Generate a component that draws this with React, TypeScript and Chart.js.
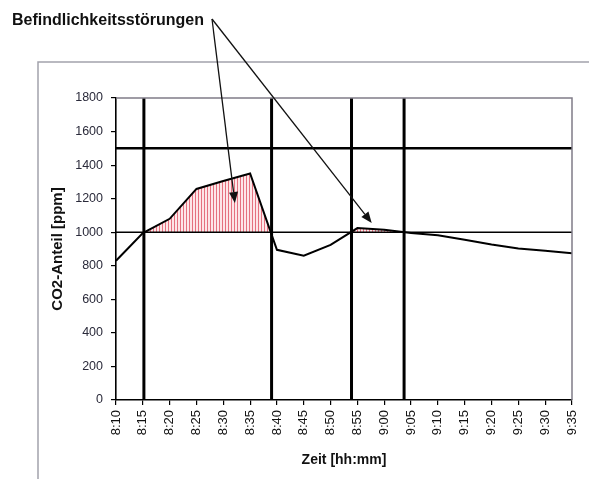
import { useEffect, useRef } from 'react';
import { Chart, registerables } from 'chart.js';

Chart.register(...registerables);

// ---- data ----
const timeLabels = ['8:10', '8:15', '8:20', '8:25', '8:30', '8:35', '8:40', '8:45', '8:50', '8:55', '9:00', '9:05', '9:10', '9:15', '9:20', '9:25', '9:30', '9:35'];
const co2Values = [830, 995, 1080, 1258, 1305, 1350, 895, 860, 925, 1025, 1015, 995, 982, 955, 927, 903, 890, 875];
const yTickValues = [0, 200, 400, 600, 800, 1000, 1200, 1400, 1600, 1800];
const thresholdValues = [1000, 1500];
const markerTimes = ['8:15:12', '8:39:00', '8:53:54', '9:03:42'];
const annotationText = 'Befindlichkeitsstörungen';
const arrowTimes = ['8:32:10', '8:57:40'];
const arrowValues = [1174, 1055];
const xTitle = 'Zeit [hh:mm]';
const yTitle = 'CO2-Anteil [ppm]';

const FONT = '"Liberation Sans", Arial, sans-serif';

function toMin(t: string): number {
  const p = t.split(':').map(Number);
  return p[0] * 60 + p[1] + (p[2] || 0) / 60;
}
function fmt(v: number): string {
  const h = Math.floor(v / 60);
  const m = Math.round(v - h * 60);
  return h + ':' + (m < 10 ? '0' + m : '' + m);
}

const xMin = toMin(timeLabels[0]);
const xMax = toMin(timeLabels[timeLabels.length - 1]);

function makePattern(): CanvasPattern | string {
  const c = document.createElement('canvas');
  c.width = 3;
  c.height = 4;
  const g = c.getContext('2d');
  if (!g) return 'rgba(230,100,120,0.4)';
  g.fillStyle = '#fde6e8';
  g.fillRect(0, 0, 3, 4);
  g.fillStyle = '#e5717f';
  g.fillRect(0, 0, 1, 4);
  return g.createPattern(c, 'repeat') || 'rgba(230,100,120,0.4)';
}

const decorPlugin = {
  id: 'decor',
  beforeDraw(chart: any) {
    const ctx = chart.ctx;
    ctx.save();
    ctx.strokeStyle = '#a2a2ac';
    ctx.lineWidth = 1.5;
    ctx.beginPath();
    ctx.moveTo(38, chart.height);
    ctx.lineTo(38, 62);
    ctx.lineTo(chart.width, 62);
    ctx.stroke();
    ctx.restore();
  },
  afterDraw(chart: any) {
    const ctx = chart.ctx;
    const a = chart.chartArea;
    const xs = chart.scales.x;
    const ys = chart.scales.y;
    ctx.save();
    // plot area top/right border
    ctx.strokeStyle = '#807c88';
    ctx.lineWidth = 1.5;
    ctx.beginPath();
    ctx.moveTo(a.left, a.top);
    ctx.lineTo(a.right, a.top);
    ctx.lineTo(a.right, a.bottom);
    ctx.stroke();
    // annotation text
    ctx.fillStyle = '#111';
    ctx.font = 'bold 16px ' + FONT;
    ctx.textBaseline = 'alphabetic';
    ctx.textAlign = 'left';
    ctx.fillText(annotationText, 12, 25);
    // arrows
    const sx = 212;
    const sy = 19;
    ctx.strokeStyle = '#111';
    ctx.fillStyle = '#111';
    ctx.lineWidth = 1.3;
    for (let i = 0; i < arrowTimes.length; i++) {
      const tx = xs.getPixelForValue(toMin(arrowTimes[i]));
      const ty = ys.getPixelForValue(arrowValues[i]);
      const ang = Math.atan2(ty - sy, tx - sx);
      const hl = 11;
      const hw = 4.5;
      const bx = tx - hl * Math.cos(ang);
      const by = ty - hl * Math.sin(ang);
      ctx.beginPath();
      ctx.moveTo(sx, sy);
      ctx.lineTo(bx, by);
      ctx.stroke();
      ctx.beginPath();
      ctx.moveTo(tx, ty);
      ctx.lineTo(bx + hw * Math.sin(ang), by - hw * Math.cos(ang));
      ctx.lineTo(bx - hw * Math.sin(ang), by + hw * Math.cos(ang));
      ctx.closePath();
      ctx.fill();
    }
    ctx.restore();
  },
};

export default function App() {
  const ref = useRef<HTMLCanvasElement | null>(null);

  useEffect(() => {
    document.body.style.margin = '0';
    const canvas = ref.current;
    if (!canvas) return;
    const pattern = makePattern();

    const datasets: any[] = [
      {
        label: 'CO2',
        data: timeLabels.map((t, i) => ({ x: toMin(t), y: co2Values[i] })),
        borderColor: '#000',
        borderWidth: 2,
        pointRadius: 0,
        tension: 0,
        fill: { target: { value: 1000 }, above: pattern, below: 'rgba(0,0,0,0)' },
        order: 2,
      },
    ];
    thresholdValues.forEach((v) => {
      datasets.push({
        label: 'h' + v,
        data: [
          { x: xMin, y: v },
          { x: xMax, y: v },
        ],
        borderColor: '#000',
        borderWidth: v === 1500 ? 2.5 : 1.6,
        pointRadius: 0,
        fill: false,
        order: 1,
      });
    });
    markerTimes.forEach((t) => {
      datasets.push({
        label: 'v' + t,
        data: [
          { x: toMin(t), y: yTickValues[0] },
          { x: toMin(t), y: yTickValues[yTickValues.length - 1] },
        ],
        borderColor: '#000',
        borderWidth: 3,
        pointRadius: 0,
        fill: false,
        order: 1,
      });
    });

    const chart = new Chart(canvas, {
      type: 'line',
      data: { datasets },
      plugins: [decorPlugin],
      options: {
        animation: false,
        responsive: false,
        layout: { padding: { top: 98, right: 17, left: 0, bottom: 0 } },
        plugins: { legend: { display: false }, tooltip: { enabled: false } },
        scales: {
          x: {
            type: 'linear',
            min: xMin,
            max: xMax,
            afterBuildTicks: (s: any) => {
              s.ticks = timeLabels.map((t) => ({ value: toMin(t) }));
            },
            afterFit: (s: any) => {
              s.height = 79;
              s.paddingLeft = 0;
              s.paddingRight = 0;
            },
            ticks: {
              autoSkip: false,
              maxRotation: 90,
              minRotation: 90,
              padding: 5,
              color: '#111',
              font: { family: FONT, size: 13 },
              callback: (v: any) => fmt(Number(v)),
            },
            grid: { drawOnChartArea: false, drawTicks: true, tickLength: 5, tickColor: '#000', lineWidth: 1.2 },
            border: { display: true, color: '#000', width: 1.6 },
            title: {
              display: true,
              text: xTitle,
              color: '#111',
              font: { family: FONT, size: 14, weight: 'bold' },
              padding: { top: 0, bottom: 10 },
            },
          },
          y: {
            type: 'linear',
            min: yTickValues[0],
            max: yTickValues[yTickValues.length - 1],
            afterBuildTicks: (s: any) => {
              s.ticks = yTickValues.map((v) => ({ value: v }));
            },
            afterFit: (s: any) => {
              s.width = 116;
              s.paddingTop = 0;
              s.paddingBottom = 0;
            },
            ticks: {
              padding: 8,
              color: '#2a2a3a',
              font: { family: FONT, size: 12.5 },
              callback: (v: any) => String(v),
            },
            grid: { drawOnChartArea: false, drawTicks: true, tickLength: 5, tickColor: '#000', lineWidth: 1.2 },
            border: { display: true, color: '#000', width: 1.6 },
            title: {
              display: true,
              text: yTitle,
              color: '#111',
              font: { family: FONT, size: 15, weight: 'bold' },
              padding: { top: 49, bottom: 0 },
            },
          },
        },
      } as any,
    });
    return () => chart.destroy();
  }, []);

  return (
    <div style={{ position: 'relative', width: 589, height: 479 }}>
      <canvas ref={ref} width={589} height={479} />
    </div>
  );
}
